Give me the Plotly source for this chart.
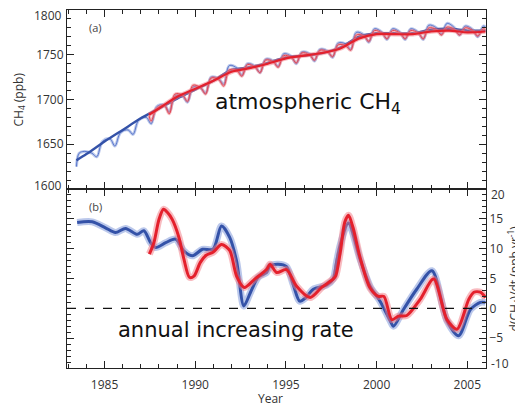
import plotly.graph_objects as go

# ---------------- Panel (a): atmospheric CH4 (ppb) ----------------
blue_trend_t = [1983.45, 1984.0, 1985.0, 1986.0, 1987.0, 1988.0, 1989.0, 1990.0, 1991.0, 1992.0,
                1993.0, 1994.0, 1995.0, 1996.0, 1997.0, 1998.0, 1999.0, 2000.0, 2001.0, 2002.0,
                2003.0, 2004.0, 2005.0, 2006.0]
blue_trend_v = [1632, 1639, 1653, 1666, 1679, 1690, 1701, 1711, 1721, 1733,
                1736, 1741, 1747, 1749, 1752, 1758, 1770, 1774, 1774, 1774,
                1778, 1779, 1777, 1777]

red_trend_t = [1987.45, 1988.0, 1989.0, 1990.0, 1991.0, 1992.0, 1993.0, 1994.0, 1995.0, 1996.0,
               1997.0, 1998.0, 1999.0, 2000.0, 2001.0, 2002.0, 2003.0, 2004.0, 2005.0, 2006.0]
red_trend_v = [1683, 1690, 1703, 1712, 1721, 1731, 1735, 1740, 1746, 1749,
               1752, 1757, 1768, 1773, 1773, 1773, 1776, 1777, 1775, 1776]

blue_month_t = [1983.45, 1983.6, 1983.88,
                1984.3, 1984.57, 1984.88, 1985.3, 1985.57, 1985.88, 1986.3, 1986.57, 1986.88,
                1987.3, 1987.57, 1987.88, 1988.3, 1988.57, 1988.88, 1989.3, 1989.57, 1989.88,
                1990.3, 1990.57, 1990.88, 1991.3, 1991.57, 1991.88, 1992.3, 1992.57, 1992.88,
                1993.3, 1993.57, 1993.88, 1994.3, 1994.57, 1994.88, 1995.3, 1995.57, 1995.88,
                1996.3, 1996.57, 1996.88, 1997.3, 1997.57, 1997.88, 1998.3, 1998.57, 1998.88,
                1999.3, 1999.57, 1999.88, 2000.3, 2000.57, 2000.88, 2001.3, 2001.57, 2001.88,
                2002.3, 2002.57, 2002.88, 2003.3, 2003.57, 2003.88, 2004.3, 2004.57, 2004.88,
                2005.3, 2005.57, 2005.88, 2006.0]
blue_month_v = [1625, 1640, 1642,
                1640, 1636, 1653, 1656, 1648, 1663, 1666, 1661, 1677,
                1680, 1673, 1692, 1694, 1686, 1704, 1704, 1697, 1714,
                1713, 1707, 1725, 1723, 1717, 1738, 1735, 1727, 1740,
                1737, 1730, 1745, 1743, 1737, 1751, 1748, 1740, 1753,
                1751, 1743, 1756, 1754, 1747, 1763, 1762, 1756, 1775,
                1772, 1764, 1779, 1775, 1767, 1779, 1775, 1767, 1779,
                1775, 1767, 1783, 1780, 1773, 1785, 1780, 1772, 1782,
                1778, 1770, 1782, 1781]

red_month_t = [1987.45, 1987.57, 1987.88, 1988.3, 1988.57, 1988.88, 1989.3, 1989.57, 1989.88,
               1990.3, 1990.57, 1990.88, 1991.3, 1991.57, 1991.88, 1992.3, 1992.57, 1992.88,
               1993.3, 1993.57, 1993.88, 1994.3, 1994.57, 1994.88, 1995.3, 1995.57, 1995.88,
               1996.3, 1996.57, 1996.88, 1997.3, 1997.57, 1997.88, 1998.3, 1998.57, 1998.88,
               1999.3, 1999.57, 1999.88, 2000.3, 2000.57, 2000.88, 2001.3, 2001.57, 2001.88,
               2002.3, 2002.57, 2002.88, 2003.3, 2003.57, 2003.88, 2004.3, 2004.57, 2004.88,
               2005.3, 2005.57, 2005.88, 2006.0]
red_month_v = [1682, 1676, 1690, 1693, 1684, 1706, 1705, 1698, 1716,
               1713, 1706, 1724, 1722, 1715, 1733, 1732, 1726, 1739,
               1736, 1730, 1744, 1742, 1736, 1749, 1747, 1741, 1752,
               1750, 1744, 1755, 1753, 1748, 1761, 1760, 1755, 1772,
               1771, 1765, 1777, 1774, 1768, 1777, 1774, 1768, 1777,
               1774, 1768, 1780, 1778, 1772, 1781, 1778, 1772, 1780,
               1777, 1771, 1779, 1778]

# ---------------- Panel (b): growth rate d(CH4)/dt (ppb/yr) ----------------
blue_rate_t = [1983.49, 1984.32, 1985.05, 1985.6, 1986.16, 1986.8, 1987.17, 1987.54, 1987.82,
               1988.37, 1988.92, 1989.38, 1989.85, 1990.4, 1990.98, 1991.45, 1991.9, 1992.28,
               1992.68, 1993.05, 1993.47, 1993.93, 1994.12, 1994.57, 1995.03, 1995.4, 1995.76,
               1996.1, 1996.51, 1997.25, 1997.6, 1997.8, 1998.0, 1998.44, 1999.09, 1999.64,
               2000.19, 2000.75, 2000.93, 2001.48, 2002.21, 2003.05, 2003.88, 2004.52, 2005.17,
               2005.72, 2006.0]
blue_rate_v = [14.4, 14.5, 13.5, 12.7, 13.4, 12.4, 13.0, 11.0, 10.2,
               11.0, 11.6, 9.6, 8.8, 9.9, 9.9, 13.8, 11.9, 7.9,
               0.4, 2.7, 5.2, 6.0, 7.1, 7.4, 7.0, 4.0, 1.2,
               1.8, 3.2, 3.9, 4.9, 7.9, 10.7, 14.3, 8.2, 3.7,
               1.2, -2.1, -3.0, -0.2, 3.2, 6.3, -2.1, -4.6, -0.2,
               1.0, 1.0]

red_rate_t = [1987.47, 1987.72, 1988.0, 1988.25, 1988.46, 1988.73, 1989.1, 1989.38, 1989.68,
              1989.93, 1990.28, 1990.6, 1990.98, 1991.45, 1991.9, 1992.28, 1992.7, 1993.28,
              1993.93, 1994.12, 1994.49, 1995.03, 1995.59, 1996.33, 1996.97, 1997.6, 1997.75,
              1998.0, 1998.25, 1998.45, 1998.7, 1999.09, 1999.64, 2000.1, 2000.4, 2000.84,
              2001.2, 2001.66, 2002.4, 2003.14, 2003.88, 2004.43, 2005.08, 2005.36, 2005.72,
              2006.0]
red_rate_v = [9.1, 11.0, 14.9, 16.6, 16.1, 14.9, 11.9, 8.2, 5.2,
              5.4, 7.7, 8.9, 9.4, 10.7, 9.7, 5.4, 3.5, 4.9,
              6.5, 7.4, 6.0, 6.5, 3.7, 1.8, 3.5, 4.9, 5.5,
              9.5, 14.5, 15.6, 13.5, 8.5, 3.4, 2.0, 2.0, -1.9,
              -1.3, -1.2, 1.5, 4.9, -1.9, -3.5, 1.5, 2.7, 2.7,
              1.8]

# tick labels
ch4_ticks = [1650, 1700, 1750]
rate_ticks = [-5, 0, 5, 10, 15]
ch4_end_labels = [1600, 1800]
rate_end_labels = [-10, 20]

BLUE = "rgb(52,82,168)"
BLUE_THIN = "rgb(90,120,205)"
BLUE_HALO = "rgba(120,145,215,0.5)"
RED = "rgb(228,32,44)"
RED_THIN = "rgb(232,70,80)"
RED_HALO = "rgba(242,120,130,0.5)"

fig = go.Figure()

# panel (a)
fig.add_trace(go.Scatter(x=blue_month_t, y=blue_month_v, mode="lines", xaxis="x", yaxis="y",
                         line=dict(color=BLUE_HALO, width=3, shape="spline", smoothing=1.0),
                         hoverinfo="skip"))
fig.add_trace(go.Scatter(x=blue_month_t, y=blue_month_v, mode="lines", xaxis="x", yaxis="y",
                         line=dict(color=BLUE_THIN, width=1, shape="spline", smoothing=1.0),
                         hoverinfo="skip"))
fig.add_trace(go.Scatter(x=blue_trend_t, y=blue_trend_v, mode="lines", xaxis="x", yaxis="y",
                         line=dict(color=BLUE, width=2.4, shape="spline", smoothing=0.8)))
fig.add_trace(go.Scatter(x=red_month_t, y=red_month_v, mode="lines", xaxis="x", yaxis="y",
                         line=dict(color=RED_HALO, width=3, shape="spline", smoothing=1.0),
                         hoverinfo="skip"))
fig.add_trace(go.Scatter(x=red_month_t, y=red_month_v, mode="lines", xaxis="x", yaxis="y",
                         line=dict(color=RED_THIN, width=1, shape="spline", smoothing=1.0),
                         hoverinfo="skip"))
fig.add_trace(go.Scatter(x=red_trend_t, y=red_trend_v, mode="lines", xaxis="x", yaxis="y",
                         line=dict(color=RED_HALO, width=4.5, shape="spline", smoothing=0.8)))
fig.add_trace(go.Scatter(x=red_trend_t, y=red_trend_v, mode="lines", xaxis="x", yaxis="y",
                         line=dict(color=RED, width=2.2, shape="spline", smoothing=0.8)))

# panel (b)
fig.add_trace(go.Scatter(x=blue_rate_t, y=blue_rate_v, mode="lines", xaxis="x2", yaxis="y2",
                         line=dict(color=BLUE_HALO, width=7, shape="spline", smoothing=0.8)))
fig.add_trace(go.Scatter(x=blue_rate_t, y=blue_rate_v, mode="lines", xaxis="x2", yaxis="y2",
                         line=dict(color=BLUE, width=3, shape="spline", smoothing=0.8)))
fig.add_trace(go.Scatter(x=red_rate_t, y=red_rate_v, mode="lines", xaxis="x2", yaxis="y2",
                         line=dict(color=RED_HALO, width=7, shape="spline", smoothing=0.8)))
fig.add_trace(go.Scatter(x=red_rate_t, y=red_rate_v, mode="lines", xaxis="x2", yaxis="y2",
                         line=dict(color=RED, width=3, shape="spline", smoothing=0.8)))

TICKFONT = dict(family="Open Sans", size=12, color="#333333")
AX = dict(showgrid=False, zeroline=False, showline=True, linecolor="#222222", linewidth=1,
          mirror="allticks", ticks="inside", tickcolor="#222222", automargin=False)
XRANGE = [1982.93, 2006.03]

# the page body adds an 8 px margin; figure is sized so the plot area lands as in the reference
fig.update_layout(
    width=515, height=398,
    margin=dict(l=59, r=37, t=2, b=38),
    paper_bgcolor="white", plot_bgcolor="white",
    showlegend=False,
    xaxis=dict(**AX, domain=[0, 1], anchor="y", range=XRANGE, showticklabels=False,
               tick0=1985, dtick=5, ticklen=7,
               minor=dict(ticks="inside", dtick=1, tick0=1985, ticklen=4, tickcolor="#222222")),
    yaxis=dict(**AX, domain=[0.5, 1], anchor="x", range=[1600, 1800], side="left",
               tickvals=ch4_ticks, ticklen=7, tickfont=TICKFONT,
               minor=dict(ticks="inside", dtick=10, tick0=1600, ticklen=4, tickcolor="#222222")),
    xaxis2=dict(**AX, domain=[0, 1], anchor="y2", range=XRANGE, showticklabels=True,
                tick0=1985, dtick=5, ticklen=7, tickfont=TICKFONT, ticklabelstandoff=6,
                minor=dict(ticks="inside", dtick=1, tick0=1985, ticklen=4, tickcolor="#222222")),
    yaxis2=dict(**AX, domain=[0, 0.5], anchor="x2", range=[-10, 20], side="right",
                tickvals=rate_ticks, ticklen=7, tickfont=TICKFONT,
                minor=dict(ticks="inside", dtick=1, tick0=0, ticklen=4, tickcolor="#222222")),
)

fig.add_shape(type="line", xref="x2 domain", x0=0, x1=1, yref="y2", y0=0, y1=0,
              line=dict(color="#111111", width=1.1, dash="dash"))

# end labels of the y axes, nudged inside the panel as in the reference
for v, shift in zip(ch4_end_labels, [4, -5]):
    fig.add_annotation(text=str(v), xref="paper", yref="y", x=0, y=v, xshift=-3, yshift=shift,
                       xanchor="right", yanchor="middle", showarrow=False, font=TICKFONT)
for v, shift in zip(rate_end_labels, [5, -5]):
    fig.add_annotation(text=str(v), xref="paper", yref="y2", x=1, y=v, xshift=3, yshift=shift,
                       xanchor="left", yanchor="middle", showarrow=False, font=TICKFONT)

fig.add_annotation(text="atmospheric CH<sub>4</sub>", xref="paper", yref="y", x=0.574, y=1695,
                   showarrow=False, xanchor="center", yanchor="middle",
                   font=dict(family="DejaVu Sans", size=22, color="#111111"))
fig.add_annotation(text="annual increasing rate", xref="paper", yref="y2", x=0.403, y=-3.6,
                   showarrow=False, xanchor="center", yanchor="middle",
                   font=dict(family="DejaVu Sans", size=21, color="#111111"))
fig.add_annotation(text="(a)", xref="x", yref="y", x=1984.52, y=1780, showarrow=False,
                   font=dict(family="Open Sans", size=11, color="#444444"))
fig.add_annotation(text="(b)", xref="x2", yref="y2", x=1984.52, y=17.1, showarrow=False,
                   font=dict(family="Open Sans", size=11, color="#444444"))
fig.add_annotation(text="CH<sub>4</sub> (ppb)", xref="paper", yref="paper", x=0, y=0.75,
                   xshift=-49, textangle=-90, showarrow=False, xanchor="center", yanchor="middle",
                   font=dict(family="Open Sans", size=12, color="#333333"))
fig.add_annotation(text="d(CH<sub>4</sub>)/dt (ppb yr<sup>-1</sup>)", xref="paper", yref="paper",
                   x=1, y=0.25, xshift=28, textangle=-90, showarrow=False,
                   xanchor="center", yanchor="middle",
                   font=dict(family="Open Sans", size=12, color="#333333"))
fig.add_annotation(text="Year", xref="paper", yref="paper", x=0.485, y=0, yshift=-30,
                   showarrow=False, yanchor="middle",
                   font=dict(family="Open Sans", size=12, color="#333333"))

fig.write_html("out.html")
